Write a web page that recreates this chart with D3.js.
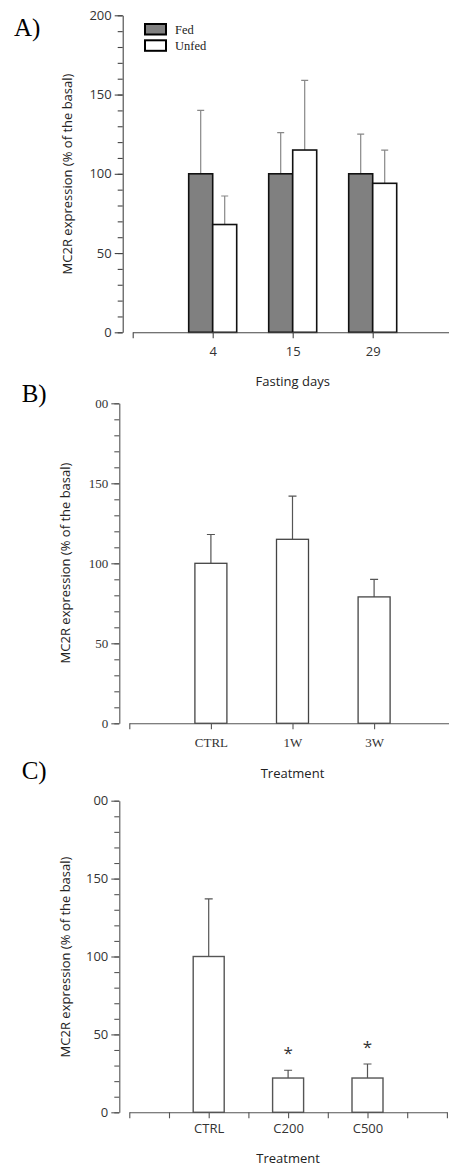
<!DOCTYPE html>
<html>
<head>
<meta charset="utf-8">
<script src="https://cdn.jsdelivr.net/npm/d3@7"></script>
<style>
body { margin: 0; background: #fff; }
svg { display: block; }
</style>
</head>
<body>
<svg id="chart" width="449" height="1166"></svg>
<script>
// panel A - fed / unfed over fasting days
var daysA = ['4', '15', '29'];
var fedA = [100, 100, 100];
var fedErrA = [40, 26, 25];
var unfedA = [68, 115, 94];
var unfedErrA = [18, 44, 21];

// panel B
var treatB = ['CTRL', '1W', '3W'];
var valB = [100, 115, 79];
var errB = [18, 27, 11];

// panel C
var treatC = ['CTRL', 'C200', 'C500'];
var valC = [100, 22, 22];
var errC = [37, 5, 9];
var sigC = [false, true, true];

// y ticks (top label of B and C is cut in the original)
var yTicks = [0, 50, 100, 150, 200];
var yLabelsA = ['0', '50', '100', '150', '200'];
var yLabelsBC = ['0', '50', '100', '150', '00'];

var SANS = "'Open Sans', sans-serif";
var SERIF = "'Liberation Serif', 'Times New Roman', serif";

var svg = d3.select('#chart');

function drawYAxis(y, axisX, labels, font, color) {
    var g = svg.append('g').attr('transform', 'translate(' + axisX + ',0)');
    g.call(d3.axisLeft(y).tickValues(d3.range(0, 201, 10)).tickSize(5).tickSizeOuter(0).tickFormat(''));
    var major = g.append('g')
        .call(d3.axisLeft(y).tickValues(yTicks).tickSize(8).tickPadding(3)
            .tickFormat(function (d, i) { return labels[i]; }));
    major.select('.domain').remove();
    g.selectAll('line, path').attr('stroke', color).attr('stroke-width', 1.1);
    g.selectAll('text').attr('font-family', font).attr('font-size', 13).attr('fill', '#333');
}

function drawXAxis(x, axisY, ticks, labelFn, font, pad, color) {
    var g = svg.append('g').attr('transform', 'translate(0,' + axisY + ')');
    g.call(d3.axisBottom(x).tickValues(ticks).tickSize(6).tickSizeOuter(0).tickPadding(pad).tickFormat(labelFn));
    g.selectAll('line, path').attr('stroke', color).attr('stroke-width', 1.1);
    g.selectAll('text').attr('font-family', font).attr('font-size', 13).attr('fill', '#333');
}

function yTitle(cx, cy) {
    svg.append('text')
        .attr('transform', 'translate(' + cx + ',' + cy + ') rotate(-90)')
        .attr('text-anchor', 'middle')
        .attr('font-family', SANS)
        .attr('font-size', 13)
        .attr('fill', '#222')
        .text('MC2R expression (% of the basal)');
}

function xTitle(cx, by, txt) {
    svg.append('text')
        .attr('x', cx).attr('y', by)
        .attr('text-anchor', 'middle')
        .attr('font-family', SANS)
        .attr('font-size', 13)
        .attr('fill', '#222')
        .text(txt);
}

function panelLabel(px, by, txt) {
    svg.append('text')
        .attr('x', px).attr('y', by)
        .attr('font-family', SERIF)
        .attr('font-size', 25)
        .attr('fill', '#000')
        .text(txt);
}

function errorBars(data, xFn, y, color, cap) {
    svg.selectAll(null).data(data).enter().append('path')
        .attr('d', function (d, i) {
            var cx = xFn(i);
            return 'M' + cx + ',' + y(d.v) + 'V' + y(d.v + d.e) +
                'M' + (cx - cap / 2) + ',' + y(d.v + d.e) + 'H' + (cx + cap / 2);
        })
        .attr('fill', 'none')
        .attr('stroke', color)
        .attr('stroke-width', 1.2);
}

// ---------- A ----------
var yA = d3.scaleLinear().domain([0, 200]).range([332.3, 15.3]);
var xA = d3.scaleLinear().domain([0, 4]).range([132.7, 452.7]);
var barWA = 24;

var fedData = fedA.map(function (v, i) { return { v: v, e: fedErrA[i] }; });
var unfedData = unfedA.map(function (v, i) { return { v: v, e: unfedErrA[i] }; });

errorBars(fedData, function (i) { return xA(i + 1) - barWA / 2; }, yA, '#888', 7);
errorBars(unfedData, function (i) { return xA(i + 1) + barWA / 2; }, yA, '#888', 7);

svg.selectAll(null).data(fedData).enter().append('rect')
    .attr('x', function (d, i) { return xA(i + 1) - barWA; })
    .attr('y', function (d) { return yA(d.v); })
    .attr('width', barWA)
    .attr('height', function (d) { return yA(0) - yA(d.v); })
    .attr('fill', '#808080').attr('stroke', '#111').attr('stroke-width', 1.6);

svg.selectAll(null).data(unfedData).enter().append('rect')
    .attr('x', function (d, i) { return xA(i + 1); })
    .attr('y', function (d) { return yA(d.v); })
    .attr('width', barWA)
    .attr('height', function (d) { return yA(0) - yA(d.v); })
    .attr('fill', '#fff').attr('stroke', '#111').attr('stroke-width', 1.6);

drawYAxis(yA, 122.7, yLabelsA, SANS, '#444');
drawXAxis(xA, 332.3, [0, 1, 2, 3], function (d) { return d === 0 ? '' : daysA[d - 1]; }, SANS, 8, '#444');
yTitle(72, 174);
xTitle(xA(2), 386, 'Fasting days');
panelLabel(14, 36, 'A)');

// legend
var legA = [{ name: 'Fed', fill: '#808080' }, { name: 'Unfed', fill: '#fff' }];
var leg = svg.selectAll(null).data(legA).enter().append('g')
    .attr('transform', function (d, i) { return 'translate(145,' + (24 + i * 16.3) + ')'; });
leg.append('rect').attr('width', 21).attr('height', 10.5)
    .attr('fill', function (d) { return d.fill; }).attr('stroke', '#000').attr('stroke-width', 2);
leg.append('text').attr('x', 30).attr('y', 10)
    .attr('font-family', SERIF).attr('font-size', 12.5).attr('fill', '#222')
    .text(function (d) { return d.name; });

// ---------- B ----------
var yB = d3.scaleLinear().domain([0, 200]).range([723.3, 403.3]);
var xB = d3.scaleLinear().domain([0, 4]).range([129.3, 455.7]);
var barWB = 32;
var dataB = valB.map(function (v, i) { return { v: v, e: errB[i] }; });

errorBars(dataB, function (i) { return xB(i + 1); }, yB, '#555', 8);
svg.selectAll(null).data(dataB).enter().append('rect')
    .attr('x', function (d, i) { return xB(i + 1) - barWB / 2; })
    .attr('y', function (d) { return yB(d.v); })
    .attr('width', barWB)
    .attr('height', function (d) { return yB(0) - yB(d.v); })
    .attr('fill', '#fff').attr('stroke', '#444').attr('stroke-width', 1.3);

drawYAxis(yB, 119.3, yLabelsBC, SERIF, '#555');
drawXAxis(xB, 723.3, [0, 1, 2, 3], function (d) { return d === 0 ? '' : treatB[d - 1]; }, SERIF, 8, '#555');
yTitle(70, 563);
xTitle(xB(2), 778, 'Treatment');
panelLabel(21.7, 402, 'B)');

// ---------- C ----------
var yC = d3.scaleLinear().domain([0, 200]).range([1112.3, 800.7]);
var xC = d3.scaleLinear().domain([0, 8]).range([129.3, 446.9]);
var barWC = 31;
var dataC = valC.map(function (v, i) { return { v: v, e: errC[i], s: sigC[i] }; });

errorBars(dataC, function (i) { return xC(2 * i + 2); }, yC, '#555', 8);
svg.selectAll(null).data(dataC).enter().append('rect')
    .attr('x', function (d, i) { return xC(2 * i + 2) - barWC / 2; })
    .attr('y', function (d) { return yC(d.v); })
    .attr('width', barWC)
    .attr('height', function (d) { return yC(0) - yC(d.v); })
    .attr('fill', '#fff').attr('stroke', '#555').attr('stroke-width', 1.4);

svg.selectAll(null).data(dataC).enter().filter(function (d) { return d.s; })
    .append('text')
    .attr('x', function (d) { return xC(2 * dataC.indexOf(d) + 2); })
    .attr('y', function (d) { return yC(d.v + d.e) - 11; })
    .attr('text-anchor', 'middle')
    .attr('font-family', SANS).attr('font-size', 17).attr('fill', '#333')
    .text('*');

drawYAxis(yC, 119.3, yLabelsBC, SANS, '#555');
drawXAxis(xC, 1112.3, d3.range(0, 9), function (d) {
    return (d % 2 === 0 && d > 0 && d < 8) ? treatC[d / 2 - 1] : '';
}, SANS, 5.5, '#555');
yTitle(70, 957);
xTitle(xC(4), 1163, 'Treatment');
panelLabel(21.7, 779, 'C)');
</script>
</body>
</html>
